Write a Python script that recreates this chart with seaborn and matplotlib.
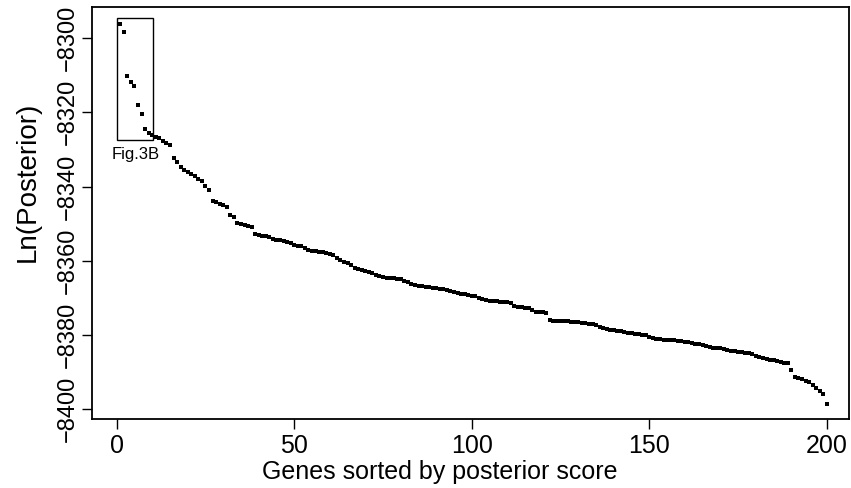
import matplotlib
matplotlib.use("Agg")
import matplotlib.pyplot as plt
import seaborn as sns
import pandas as pd
from matplotlib.patches import Rectangle

gene_rank = list(range(1, 201))
ln_posterior = [
    -8296.3, -8298.4, -8310.3, -8311.8, -8313.0, -8317.9, -8320.5, -8324.6, -8325.6, -8326.2,
    -8326.6, -8327.0, -8327.6, -8328.2, -8328.8, -8332.4, -8333.3, -8334.7, -8335.4, -8336.0,
    -8336.6, -8337.2, -8337.9, -8338.6, -8339.9, -8341.0, -8343.8, -8344.2, -8344.6, -8345.0,
    -8345.5, -8347.7, -8348.3, -8349.8, -8350.2, -8350.4, -8350.6, -8350.8, -8352.8, -8353.1,
    -8353.2, -8353.4, -8353.7, -8354.1, -8354.3, -8354.5, -8354.7, -8355.0, -8355.3, -8355.6,
    -8355.9, -8356.1, -8356.6, -8357.1, -8357.3, -8357.4, -8357.5, -8357.7, -8357.9, -8358.1,
    -8358.4, -8359.2, -8359.8, -8360.2, -8360.7, -8361.2, -8362.0, -8362.3, -8362.5, -8362.7,
    -8363.0, -8363.3, -8363.8, -8364.1, -8364.3, -8364.5, -8364.6, -8364.7, -8364.8, -8365.0,
    -8365.4, -8365.8, -8366.3, -8366.5, -8366.7, -8366.8, -8367.0, -8367.1, -8367.2, -8367.4,
    -8367.5, -8367.7, -8367.9, -8368.1, -8368.3, -8368.6, -8368.8, -8369.0, -8369.2, -8369.4,
    -8369.6, -8370.0, -8370.4, -8370.5, -8370.7, -8370.8, -8370.9, -8371.0, -8371.1, -8371.2,
    -8371.4, -8372.2, -8372.4, -8372.5, -8372.7, -8372.8, -8373.3, -8373.7, -8373.8, -8373.9,
    -8374.0, -8376.0, -8376.1, -8376.2, -8376.2, -8376.3, -8376.3, -8376.4, -8376.5, -8376.6,
    -8376.7, -8376.8, -8376.9, -8377.0, -8377.4, -8377.8, -8378.1, -8378.3, -8378.5, -8378.7,
    -8378.9, -8379.0, -8379.2, -8379.4, -8379.5, -8379.6, -8379.7, -8379.9, -8380.0, -8380.4,
    -8380.9, -8381.0, -8381.1, -8381.2, -8381.2, -8381.3, -8381.4, -8381.5, -8381.6, -8381.8,
    -8381.9, -8382.1, -8382.3, -8382.5, -8382.7, -8383.0, -8383.2, -8383.4, -8383.5, -8383.6,
    -8383.8, -8384.0, -8384.2, -8384.3, -8384.5, -8384.6, -8384.8, -8384.9, -8385.1, -8385.5,
    -8386.0, -8386.2, -8386.4, -8386.6, -8386.8, -8387.0, -8387.2, -8387.4, -8387.6, -8389.4,
    -8391.3, -8391.6, -8391.9, -8392.3, -8392.6, -8393.5, -8394.3, -8395.0, -8395.9, -8398.6,
]
x_ticks = [0, 50, 100, 150, 200]
y_ticks = [-8400, -8380, -8360, -8340, -8320, -8300]
box_label = "Fig.3B"
x_title = "Genes sorted by posterior score"
y_title = "Ln(Posterior)"

sns.set_style("ticks")
plt.rcParams["font.family"] = ["Liberation Sans", "DejaVu Sans"]
plt.rcParams["text.color"] = "black"
plt.rcParams["axes.labelcolor"] = "black"
plt.rcParams["xtick.color"] = "black"
plt.rcParams["ytick.color"] = "black"

df = pd.DataFrame({"rank": gene_rank, "lnp": ln_posterior})

fig = plt.figure(figsize=(8.51, 4.88), dpi=100)
ax = fig.add_axes([0.1081, 0.1414, 0.8890, 0.8436])

sns.scatterplot(data=df, x="rank", y="lnp", marker="s", s=7, color="black",
                linewidth=0, ax=ax, legend=False)

ax.add_patch(Rectangle((0, -8327.5), 10.1, 33.0, fill=False, edgecolor="black", linewidth=1.0))
ax.text(5.4, -8329.4, box_label, ha="center", va="top", fontsize=12, color="black")

ax.set_xlim(-6.96, 206.1)
ax.set_ylim(-8402.6, -8291.7)
ax.set_xticks(x_ticks)
ax.set_yticks(y_ticks)
ax.set_xticklabels([str(v) for v in x_ticks], fontsize=18, color="black")
ax.set_yticklabels([str(v).replace("-", "\u2212") for v in y_ticks], fontsize=17,
                   rotation=90, va="center", color="black")
ax.set_xlabel(x_title, fontsize=18, color="black")
ax.set_ylabel(y_title, fontsize=20, color="black")
ax.xaxis.set_label_coords(0.46, -0.10)
ax.yaxis.set_label_coords(-0.068, 0.575)
ax.tick_params(axis="both", direction="out", length=7.5, width=1.0, color="black",
               labelcolor="black")
ax.tick_params(axis="x", pad=3)
ax.tick_params(axis="y", pad=2)
for sp in ax.spines.values():
    sp.set_visible(True)
    sp.set_linewidth(1.3)
    sp.set_color("black")

fig.savefig("out.png", dpi=100)
